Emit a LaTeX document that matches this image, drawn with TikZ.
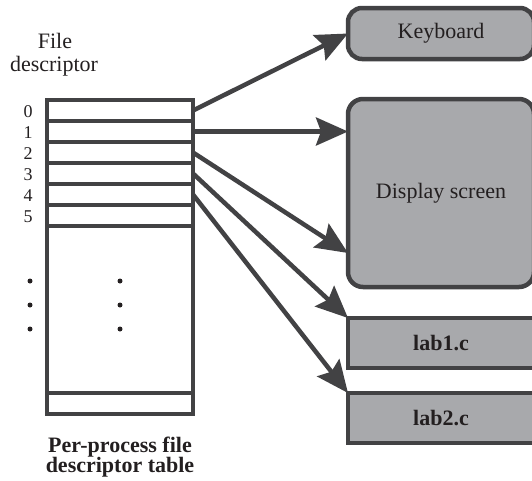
\documentclass[tikz,border=0pt]{standalone}
\usepackage{fontspec}
\setmainfont{Liberation Serif}
\usetikzlibrary{arrows.meta,calc}
\definecolor{edge}{RGB}{66,66,68}
\definecolor{boxfill}{RGB}{168,169,172}
\definecolor{ink}{RGB}{35,31,32}
\begin{document}
\begin{tikzpicture}[x=1pt,y=-1pt,
  every node/.style={text=ink, inner sep=0pt, outer sep=0pt},
  txt/.style={font=\fontsize{22}{26}\selectfont},
  boldtxt/.style={font=\fontsize{22}{26}\selectfont\bfseries},
  digit/.style={font=\fontsize{18}{21}\selectfont},
  device/.style={draw=edge, fill=boxfill, line width=4.5pt, rounded corners=14pt,
    anchor=north west, minimum width=186pt, txt},
  filebox/.style={device, rounded corners=0pt, boldtxt},
  slot/.style={draw=edge, line width=4.5pt, anchor=north west,
    minimum width=146pt, minimum height=21pt},
  link/.style={draw=edge, line width=4.5pt,
    -{Stealth[length=32pt,width=28pt,inset=5pt]}},
  dot/.style={circle, fill=ink, minimum size=5pt}
]
\useasboundingbox (0,0) rectangle (532,480);
\clip (0,0) rectangle (532,480);

% heading over the index column
\node[txt, anchor=base] (hdA) at (55,48) {File};
\node[txt, anchor=base] (hdB) at (54,71) {descriptor};

% per-process table: six numbered slots, an open middle part, one last slot
\foreach \k in {0,...,5} {
  \node[slot] (r\k) at (47,100+21*\k) {};
  \node[digit] (n\k) at (28,112+21*\k) {\k};
}
\node[slot, minimum height=167pt] (body) at (47,226) {};
\node[slot] (last) at (47,393) {};

% ellipsis dots
\foreach \j in {0,1,2} {
  \node[dot] (dl\j) at (30,281+24*\j) {};
  \node[dot] (dm\j) at (120,281+24*\j) {};
}

% caption
\node[boldtxt, anchor=base] (capA) at (120,452) {Per-process file};
\node[boldtxt, anchor=base] (capB) at (120,472) {descriptor table};

% open files
\node[device, minimum height=51pt] (kbd) at (348,8) {Keyboard};
\node[device, minimum height=188pt, rounded corners=15pt] (disp) at (348,99) {Display screen};
\node[filebox, minimum height=50pt] (labA) at (348,318) {lab1.c};
\node[filebox, minimum height=50pt] (labB) at (348,393) {lab2.c};

% descriptor links
\draw[link] (r0.east) -- (kbd.west);
\draw[link] (r1.east) -- (r1.east -| disp.west);
\draw[link] (r2.east) -- ([yshift=34pt]disp.south west);
\draw[link] (r3.east) -- (labA.north west);
\draw[link] (r4.east) -- (labB.north west);
\end{tikzpicture}
\end{document}
